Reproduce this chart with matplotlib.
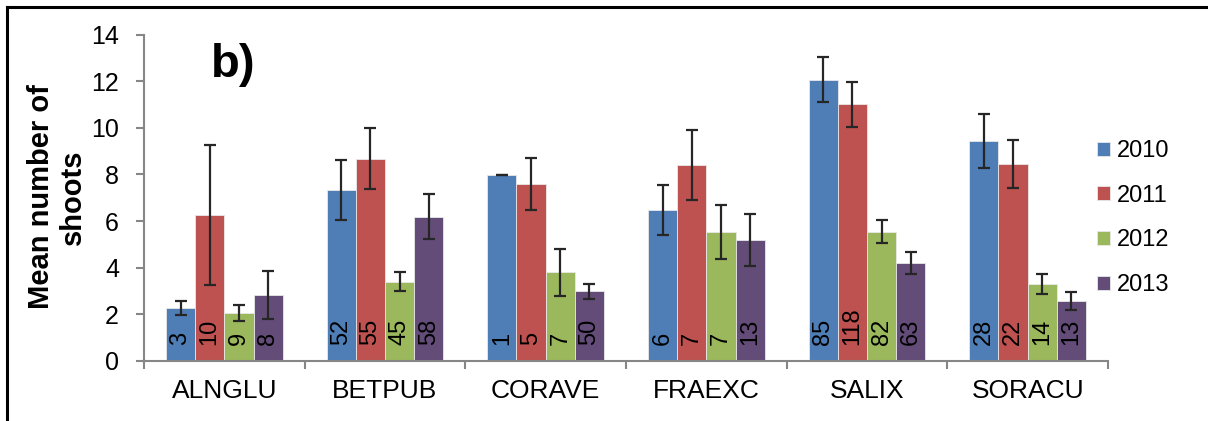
import matplotlib
matplotlib.use("Agg")
import matplotlib.pyplot as plt
from matplotlib.lines import Line2D
import numpy as np

plt.rcParams['font.family'] = ['Liberation Sans', 'DejaVu Sans']

# mean number of shoots per species and year, with error bars and sample sizes
species = ['ALNGLU', 'BETPUB', 'CORAVE', 'FRAEXC', 'SALIX', 'SORACU']
years = ['2010', '2011', '2012', '2013']

mean_2010 = [2.27, 7.32, 7.98, 6.46, 12.07, 9.44]
mean_2011 = [6.25, 8.67, 7.58, 8.41, 11.01, 8.44]
mean_2012 = [2.06, 3.40, 3.80, 5.53, 5.55, 3.30]
mean_2013 = [2.83, 6.19, 2.99, 5.19, 4.20, 2.56]

err_2010 = [0.30, 1.29, 0.00, 1.07, 0.97, 1.16]
err_2011 = [3.00, 1.30, 1.12, 1.50, 0.97, 1.04]
err_2012 = [0.36, 0.40, 1.02, 1.16, 0.50, 0.41]
err_2013 = [1.04, 0.95, 0.33, 1.10, 0.46, 0.38]

n_2010 = [3, 52, 1, 6, 85, 28]
n_2011 = [10, 55, 5, 7, 118, 22]
n_2012 = [9, 45, 7, 7, 82, 14]
n_2013 = [8, 58, 50, 13, 63, 13]

means = [mean_2010, mean_2011, mean_2012, mean_2013]
errs = [err_2010, err_2011, err_2012, err_2013]
counts = [n_2010, n_2011, n_2012, n_2013]
colors = ['#4F7EB7', '#BE5250', '#9BB95C', '#634C78']

fig = plt.figure(figsize=(12.08, 4.21), dpi=100)
ax = fig.add_axes([144 / 1208, 1 - 361 / 421, (1108 - 144) / 1208, (361 - 34.5) / 421])

x = np.arange(len(species))
w = 1 / 5.5
for k in range(4):
    pos = x + (k - 1.5) * w
    ax.bar(pos, means[k], width=w, color=colors[k], edgecolor='#e8e8e8',
           linewidth=0.6, label=years[k], zorder=2)
    ax.errorbar(pos, means[k], yerr=errs[k], fmt='none', ecolor='#262626',
                elinewidth=1.6, capsize=4.5, capthick=1.6, zorder=3)
    for xi, n in zip(pos, counts[k]):
        ax.annotate(str(n), (xi, 0), xytext=(0, 11.5), textcoords='offset points',
                    rotation=90, ha='center', va='bottom', fontsize=17, zorder=4)

ax.set_xlim(-0.5, 5.5)
ax.set_ylim(0, 14)
ax.set_yticks(range(0, 15, 2))
ax.set_xticks(np.arange(-0.5, 6, 1))
ax.set_xticklabels([])
ax.set_xticks(x, minor=True)
ax.set_xticklabels(species, minor=True, fontsize=19)
ax.tick_params(axis='x', which='minor', length=0, pad=13)
ax.tick_params(axis='x', which='major', length=6, width=1.5, color='#868686')
ax.tick_params(axis='y', length=6, width=1.5, color='#868686', labelsize=18, pad=12)

for side in ['top', 'right']:
    ax.spines[side].set_visible(False)
for side in ['left', 'bottom']:
    ax.spines[side].set_color('#868686')
    ax.spines[side].set_linewidth(1.5)

ax.legend(loc='upper left', bbox_to_anchor=(1097 / 1208, 1 - 140 / 421),
          bbox_transform=fig.transFigure, frameon=False, fontsize=17,
          handlelength=0.55, handleheight=0.55, handletextpad=0.3,
          labelspacing=0.96, borderpad=0, borderaxespad=0)

fig.text(57 / 1208, 1 - 197 / 421, 'Mean number of\nshoots', rotation=90,
         ha='center', va='center', multialignment='center',
         fontsize=21, fontweight='bold', linespacing=1.15)
fig.text(211 / 1208, 1 - 77 / 421, 'b)', ha='left', va='baseline',
         fontsize=34, fontweight='bold')

# outer frame (left and top edges only)
fig.add_artist(Line2D([7 / 1208, 7 / 1208], [0, 1 - 7 / 421], color='black',
                      linewidth=2.2, transform=fig.transFigure))
fig.add_artist(Line2D([7 / 1208, 1], [1 - 7 / 421, 1 - 7 / 421], color='black',
                      linewidth=2.2, transform=fig.transFigure))

fig.savefig('out.png', dpi=100)
